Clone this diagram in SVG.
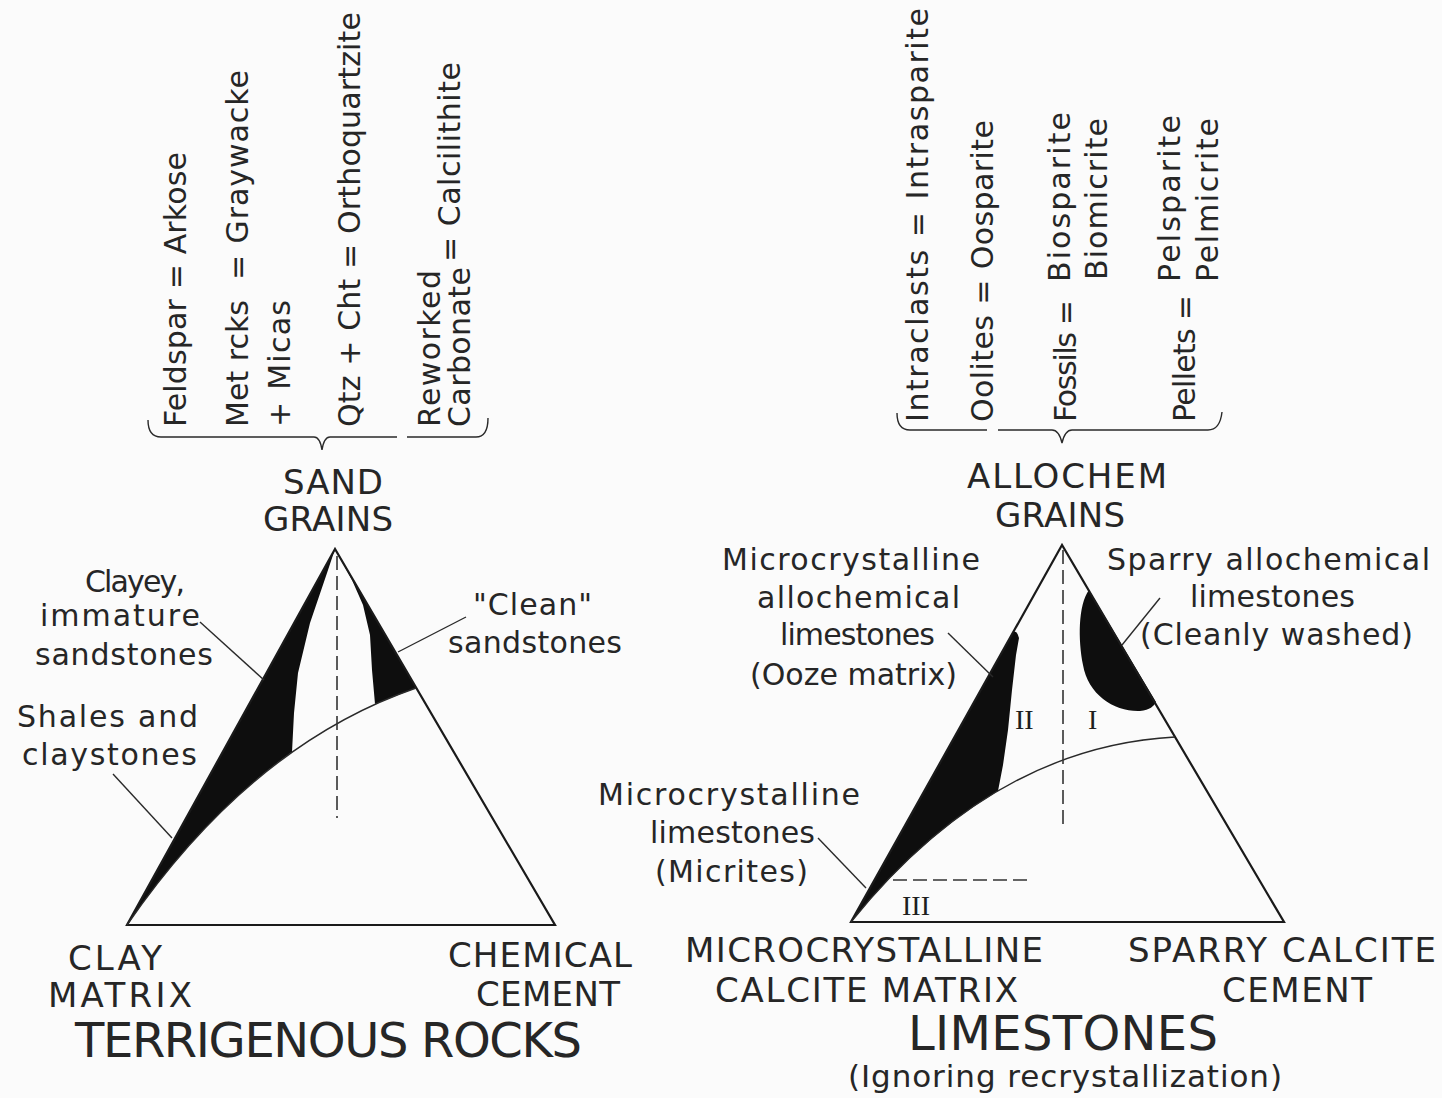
<svg xmlns="http://www.w3.org/2000/svg" width="1442" height="1098" viewBox="0 0 1442 1098">
<style>
.t{font-family:"DejaVu Sans","Liberation Sans",sans-serif;fill:#262626}
.lab{font-size:30px}
.rot{font-size:30px}
.cap{font-size:34px}
.big{font-size:48px}
.rom{font-family:"Liberation Serif",serif;font-size:28px;fill:#1e1e1e}
.edge{fill:none;stroke:#1a1a1a;stroke-width:2.2;stroke-linejoin:miter}
.thin{fill:none;stroke:#2a2a2a;stroke-width:1.4}
.dash{fill:none;stroke:#333;stroke-width:1.6;stroke-dasharray:14 6}
.blk{fill:#0e0e0e}
</style>
<rect width="1442" height="1098" fill="#fbfbfb"/>

<g id="sand-sources">
<path class="thin" d="M148,420 Q148,437 161,437 L314,437 Q320,437 322,450 Q324,437 330,437 L397,437 M407,437 L476,437 Q488,437 488,418"/>
<text class="t rot" transform="translate(186,427) rotate(-90)" textLength="275" lengthAdjust="spacing">Feldspar = Arkose</text>
<text class="t rot" transform="translate(248,427) rotate(-90)" textLength="127" lengthAdjust="spacing">Met rcks</text>
<text class="t rot" transform="translate(248,280) rotate(-90)" textLength="210" lengthAdjust="spacing">= Graywacke</text>
<text class="t rot" transform="translate(290,427) rotate(-90)" textLength="127" lengthAdjust="spacing">+ Micas</text>
<text class="t rot" transform="translate(360,427) rotate(-90)" textLength="415" lengthAdjust="spacing">Qtz + Cht = Orthoquartzite</text>
<text class="t rot" transform="translate(440,427) rotate(-90)" textLength="157" lengthAdjust="spacing">Reworked</text>
<text class="t rot" transform="translate(470,427) rotate(-90)" textLength="160" lengthAdjust="spacing">Carbonate</text>
<text class="t rot" transform="translate(460,262) rotate(-90)" textLength="200" lengthAdjust="spacing">= Calcilithite</text>
</g>

<g id="allochem-sources">
<path class="thin" d="M897,413 Q897,430 910,430 L987,430 M998,430 L1052,430 Q1059,430 1062,443 Q1065,430 1072,430 L1208,430 Q1220,430 1222,412"/>
<text class="t rot" transform="translate(928,422) rotate(-90)" textLength="414" lengthAdjust="spacing">Intraclasts = Intrasparite</text>
<text class="t rot" transform="translate(993,422) rotate(-90)" textLength="302" lengthAdjust="spacing">Oolites = Oosparite</text>
<text class="t rot" transform="translate(1076,422) rotate(-90)" textLength="122" lengthAdjust="spacing">Fossils =</text>
<text class="t rot" transform="translate(1070,282) rotate(-90)" textLength="170" lengthAdjust="spacing">Biosparite</text>
<text class="t rot" transform="translate(1107,280) rotate(-90)" textLength="162" lengthAdjust="spacing">Biomicrite</text>
<text class="t rot" transform="translate(1195,422) rotate(-90)" textLength="127" lengthAdjust="spacing">Pellets =</text>
<text class="t rot" transform="translate(1180,282) rotate(-90)" textLength="167" lengthAdjust="spacing">Pelsparite</text>
<text class="t rot" transform="translate(1218,282) rotate(-90)" textLength="164" lengthAdjust="spacing">Pelmicrite</text>
</g>

<g id="terrigenous-triangle">
<path class="blk" d="M335,549 L127,925 Q202,816 292,752 L294,713 L298,673 L310,623 L327,573 Z"/>
<path class="blk" d="M335,549 L416,688 L375,704 L372,670 L370,635 L363,605 L352,580 L341,560 Z"/>
<path class="edge" d="M335,549 L127,925 L555,925 Z"/>
<path class="thin" d="M127,925 Q251,745 416,688"/>
<path class="dash" d="M337,556 L337,818"/>
</g>

<g id="limestone-triangle">
<path class="blk" d="M1013,632 L851,922 Q919,838 998,791 L1003,765 L1008,730 L1012,690 L1016,655 L1019,638 Q1017,630 1013,632 Z"/>
<path class="blk" d="M1089,590 C1078,605 1078,640 1083,665 C1088,695 1115,712 1140,711 C1150,710 1154,706 1156,702 Z"/>
<path class="edge" d="M1062,545 L851,922 L1284,922 Z"/>
<path class="thin" d="M851,922 Q992,747 1175,737"/>
<path class="dash" d="M1063,550 L1063,827"/>
<path class="dash" d="M893,880 L1027,880"/>
<text class="rom" x="1015" y="729">II</text>
<text class="rom" x="1088" y="729">I</text>
<text class="rom" x="902" y="915">III</text>
</g>

<g id="connectors">
<line class="thin" x1="200" y1="622" x2="264" y2="680"/>
<line class="thin" x1="113" y1="774" x2="172" y2="838"/>
<line class="thin" x1="466" y1="617" x2="398" y2="652"/>
<line class="thin" x1="948" y1="633" x2="993" y2="677"/>
<line class="thin" x1="1160" y1="598" x2="1122" y2="645"/>
<line class="thin" x1="818" y1="838" x2="866" y2="888"/>
</g>

<g id="label-sand-grains">
<text class="t cap" x="283" y="494" textLength="100" lengthAdjust="spacing">SAND</text>
<text class="t cap" x="263" y="531" textLength="130" lengthAdjust="spacing">GRAINS</text>
</g>
<g id="label-clayey">
<text class="t lab" x="85" y="592" textLength="100" lengthAdjust="spacing">Clayey,</text>
<text class="t lab" x="40" y="626" textLength="160" lengthAdjust="spacing">immature</text>
<text class="t lab" x="35" y="665" textLength="178" lengthAdjust="spacing">sandstones</text>
</g>
<g id="label-shales">
<text class="t lab" x="17" y="727" textLength="181" lengthAdjust="spacing">Shales and</text>
<text class="t lab" x="22" y="765" textLength="175" lengthAdjust="spacing">claystones</text>
</g>
<g id="label-clean">
<text class="t lab" x="473" y="615" textLength="119" lengthAdjust="spacing">"Clean"</text>
<text class="t lab" x="448" y="653" textLength="174" lengthAdjust="spacing">sandstones</text>
</g>
<g id="label-clay-matrix">
<text class="t cap" x="68" y="970" textLength="94" lengthAdjust="spacing">CLAY</text>
<text class="t cap" x="48" y="1007" textLength="144" lengthAdjust="spacing">MATRIX</text>
</g>
<g id="label-chemical-cement">
<text class="t cap" x="448" y="967" textLength="184" lengthAdjust="spacing">CHEMICAL</text>
<text class="t cap" x="476" y="1006" textLength="144" lengthAdjust="spacing">CEMENT</text>
</g>
<g id="title-terrigenous">
<text class="t big" x="75" y="1057" textLength="507" lengthAdjust="spacing">TERRIGENOUS ROCKS</text>
</g>

<g id="label-allochem-grains">
<text class="t cap" x="967" y="488" textLength="200" lengthAdjust="spacing">ALLOCHEM</text>
<text class="t cap" x="995" y="527" textLength="130" lengthAdjust="spacing">GRAINS</text>
</g>
<g id="label-ooze">
<text class="t lab" x="722" y="570" textLength="258" lengthAdjust="spacing">Microcrystalline</text>
<text class="t lab" x="757" y="608" textLength="203" lengthAdjust="spacing">allochemical</text>
<text class="t lab" x="780" y="645" textLength="155" lengthAdjust="spacing">limestones</text>
<text class="t lab" x="750" y="685" textLength="207" lengthAdjust="spacing">(Ooze matrix)</text>
</g>
<g id="label-sparry">
<text class="t lab" x="1107" y="570" textLength="323" lengthAdjust="spacing">Sparry allochemical</text>
<text class="t lab" x="1190" y="607" textLength="165" lengthAdjust="spacing">limestones</text>
<text class="t lab" x="1140" y="645" textLength="273" lengthAdjust="spacing">(Cleanly washed)</text>
</g>
<g id="label-micrites">
<text class="t lab" x="598" y="805" textLength="262" lengthAdjust="spacing">Microcrystalline</text>
<text class="t lab" x="650" y="843" textLength="165" lengthAdjust="spacing">limestones</text>
<text class="t lab" x="655" y="882" textLength="153" lengthAdjust="spacing">(Micrites)</text>
</g>
<g id="label-micro-matrix">
<text class="t cap" x="685" y="962" textLength="358" lengthAdjust="spacing">MICROCRYSTALLINE</text>
<text class="t cap" x="715" y="1002" textLength="303" lengthAdjust="spacing">CALCITE MATRIX</text>
</g>
<g id="label-sparry-cement">
<text class="t cap" x="1128" y="962" textLength="308" lengthAdjust="spacing">SPARRY CALCITE</text>
<text class="t cap" x="1222" y="1002" textLength="150" lengthAdjust="spacing">CEMENT</text>
</g>
<g id="title-limestones">
<text class="t big" x="908" y="1050" textLength="310" lengthAdjust="spacing">LIMESTONES</text>
<text class="t" style="font-size:31px" x="848" y="1087" textLength="434" lengthAdjust="spacing">(Ignoring recrystallization)</text>
</g>
</svg>
